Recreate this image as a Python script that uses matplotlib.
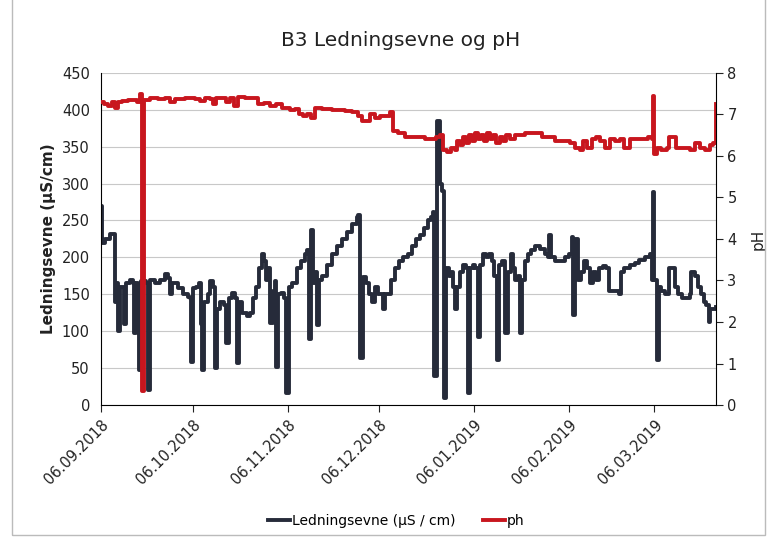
import numpy as np
import pandas as pd
import matplotlib
matplotlib.use("Agg")
from matplotlib import pyplot as plt
import matplotlib.dates as mdates
from matplotlib.patches import Rectangle

start = pd.Timestamp("2018-09-06")

# ledningsevne (uS/cm), x = days after 06.09.2018
cond_days = [0, 0.3, 1.3, 2.9, 4.2, 4.6, 5.2, 5.6, 6.2, 6.9, 7.5, 8.2, 9.5, 10.5, 10.8, 11.4,
             12.1, 12.4, 13.1, 14.7, 15.4, 16.0, 17.6, 19.3, 20.9, 21.9, 22.5, 23.2, 25.2, 26.8,
             28.4, 29.1, 29.4, 30.1, 31.0, 32.0, 32.7, 33.0, 33.7, 35.0, 35.6, 36.6, 37.3, 37.9,
             38.9, 40.2, 40.8, 41.8, 42.8, 43.8, 44.4, 45.1, 46.1, 47.7, 48.7, 49.7, 50.7, 51.6,
             52.6, 53.3, 53.9, 54.6, 55.2, 56.2, 56.9, 57.2, 57.8, 58.8, 59.8, 60.5, 61.4, 62.4,
             64.1, 65.4, 66.7, 67.3, 68.0, 68.6, 69.3, 69.9, 70.6, 71.2, 72.2, 73.9, 75.5, 77.1,
             78.8, 80.4, 82.0, 83.7, 84.0, 84.6, 85.6, 86.6, 87.6, 88.6, 89.5, 90.5, 91.5, 92.2,
             92.8, 93.8, 94.8, 96.1, 97.4, 98.7, 100.3, 101.6, 102.9, 104.2, 105.6, 106.9, 107.8,
             108.5, 108.8, 109.8, 110.8, 111.4, 112.1, 112.7, 113.7, 114.4, 115.0, 115.7, 116.3,
             117.3, 118.3, 119.3, 119.9, 120.6, 121.6, 122.2, 123.2, 123.9, 124.8, 125.8, 126.8,
             127.8, 128.4, 129.4, 130.1, 131.0, 132.0, 133.0, 134.0, 134.6, 135.3, 136.3, 136.9,
             137.6, 138.6, 139.5, 140.5, 141.8, 143.5, 145.1, 146.1, 146.4, 147.1, 148.4, 150.0,
             151.6, 152.9, 153.9, 154.2, 154.9, 155.9, 156.9, 157.8, 158.8, 159.8, 160.8, 161.8,
             162.7, 164.1, 165.0, 166.0, 167.6, 169.3, 169.9, 171.2, 172.9, 174.5, 176.1, 177.8,
             179.4, 180.1, 180.4, 181.0, 181.7, 182.4, 183.3, 184.3, 185.3, 185.9, 186.9, 187.6,
             188.6, 189.9, 191.2, 192.5, 193.1, 194.4, 195.1, 196.1, 197.1, 198.0, 198.7, 199.3,
             201.0]
cond = [270, 220, 225, 232, 232, 140, 165, 100, 160, 160, 110, 165, 170, 165, 98, 165,
        160, 47, 168, 165, 20, 170, 165, 170, 178, 172, 150, 165, 158, 150,
        147, 145, 58, 158, 160, 165, 110, 47, 140, 150, 168, 160, 50, 130,
        140, 135, 84, 145, 152, 145, 57, 140, 125, 120, 125, 145, 160, 185,
        205, 195, 170, 185, 111, 155, 168, 52, 150, 152, 145, 16, 160, 165,
        185, 195, 205, 210, 90, 237, 165, 180, 108, 170, 175, 190, 205, 215,
        225, 235, 245, 255, 257, 64, 173, 165, 150, 140, 160, 150, 150, 130,
        150, 150, 170, 185, 195, 200, 205, 215, 225, 230, 240, 250, 255,
        262, 40, 385, 300, 290, 10, 185, 175, 180, 160, 130, 160,
        180, 190, 185, 16, 185, 190, 185, 92, 190, 205, 200, 205,
        195, 175, 61, 190, 195, 98, 180, 205, 185, 170, 175, 98,
        170, 195, 205, 210, 215, 212, 205, 200, 230, 200, 195, 195,
        200, 205, 228, 122, 225, 170, 180, 195, 185, 165, 180, 170,
        185, 188, 185, 155, 155, 150, 180, 185, 190, 192, 197, 200,
        205, 170, 288, 170, 61, 160, 155, 150, 150, 185, 185, 160,
        150, 145, 145, 150, 180, 175, 160, 150, 140, 135, 112, 130,
        133]

ph_days = [0, 1.0, 2.3, 3.6, 4.6, 5.6, 6.9, 8.8, 10.8, 11.8, 12.7, 13.4, 14.1, 16.0, 18.6,
           20.9, 22.5, 24.2, 27.5, 30.7, 32.4, 34.0, 35.6, 36.6, 37.6, 39.5, 40.8, 42.2, 43.5,
           44.8, 47.1, 50.3, 51.3, 53.3, 55.2, 57.2, 59.2, 61.8, 63.4, 64.7, 66.0, 67.3, 68.6,
           69.9, 72.2, 75.5, 79.7, 82.0, 84.0, 85.3, 86.9, 87.9, 89.5, 91.2, 92.8, 94.4, 95.4,
           97.1, 99.3, 102.6, 105.9, 108.2, 109.5, 110.8, 111.8, 113.1, 114.4, 115.7, 116.3,
           117.3, 118.3, 119.3, 120.3, 121.2, 122.2, 123.2, 124.2, 125.2, 126.1, 127.1, 128.1,
           129.1, 130.4, 131.4, 132.4, 133.7, 135.3, 138.6, 141.8, 144.1, 146.7, 148.4, 151.6,
           153.3, 154.9, 156.5, 157.5, 158.8, 160.5, 161.8, 163.1, 164.7, 166.3, 168.0, 169.6,
           171.2, 172.9, 176.1, 178.8, 180.1, 180.4, 180.7, 181.7, 183.3, 185.0, 185.9, 186.9,
           187.9, 189.9, 192.5, 194.1, 195.8, 197.5, 199.0, 200.3, 201.0]
ph = [7.3, 7.25, 7.2, 7.3, 7.15, 7.3, 7.33, 7.35, 7.35, 7.3, 7.5, 0.35, 7.35, 7.4, 7.38,
      7.4, 7.3, 7.38, 7.4, 7.38, 7.32, 7.4, 7.37, 7.25, 7.4, 7.4, 7.3, 7.4, 7.2,
      7.42, 7.4, 7.4, 7.25, 7.28, 7.2, 7.25, 7.15, 7.1, 7.12, 7.0, 6.95, 7.0, 6.9,
      7.15, 7.12, 7.1, 7.08, 7.05, 6.95, 6.85, 6.85, 7.0, 6.9, 6.95, 6.95, 7.05, 6.6,
      6.55, 6.45, 6.45, 6.4, 6.4, 6.45, 6.5, 6.15, 6.1, 6.2, 6.15, 6.35,
      6.25, 6.45, 6.3, 6.5, 6.35, 6.55, 6.4, 6.5, 6.35, 6.55, 6.4, 6.5,
      6.3, 6.45, 6.35, 6.5, 6.4, 6.5, 6.55, 6.55, 6.45, 6.45, 6.35, 6.35,
      6.3, 6.2, 6.15, 6.35, 6.2, 6.4, 6.45, 6.35, 6.2, 6.4, 6.35, 6.4,
      6.2, 6.4, 6.4, 6.45, 6.4, 7.45, 6.05, 6.2, 6.15, 6.2, 6.45, 6.45,
      6.2, 6.2, 6.15, 6.3, 6.2, 6.15, 6.25, 6.3, 7.25]

tick_dates = ["06.09.2018", "06.10.2018", "06.11.2018", "06.12.2018",
              "06.01.2019", "06.02.2019", "06.03.2019"]

cond_x = start + pd.to_timedelta(cond_days, unit="D")
ph_x = start + pd.to_timedelta(ph_days, unit="D")
ticks = pd.to_datetime(tick_dates, format="%d.%m.%Y")

plt.rcParams['font.family'] = ['DejaVu Sans']
fig = plt.figure(figsize=(7.77, 5.43), dpi=100)
ax = fig.add_axes([0.130, 0.254, 0.791, 0.612])
ax2 = ax.twinx()

navy = '#262b3a'
red = '#c8161e'
l1, = ax.plot(cond_x, cond, color=navy, lw=2.8, drawstyle='steps-post')
l2, = ax2.plot(ph_x, ph, color=red, lw=2.8, drawstyle='steps-post')
ax2.set_zorder(ax.get_zorder() + 1)
ax.patch.set_visible(True)
ax2.patch.set_visible(False)

ax.set_xlim(start, start + pd.Timedelta(days=201))
ax.set_ylim(0, 450)
ax2.set_ylim(0, 8)
ax.set_yticks(range(0, 451, 50))
ax2.set_yticks(range(0, 9))
ax.set_xticks(ticks)
ax.set_xticklabels(tick_dates, rotation=45, ha='right', rotation_mode='anchor')
ax.grid(axis='y', color='#c8c8c8', lw=0.8)
ax.set_axisbelow(True)

for a in (ax, ax2):
    a.spines['top'].set_visible(False)
    a.tick_params(labelsize=10.5, colors='#222222')
ax.spines['right'].set_visible(False)
ax2.spines['left'].set_visible(False)
ax2.spines['bottom'].set_visible(False)
ax.tick_params(axis='y', length=0, pad=8)
ax.tick_params(axis='x', length=5, direction='out')
ax2.tick_params(axis='y', length=5, direction='out')

ax.set_ylabel('Ledningsevne (µS/cm)', fontsize=11, fontweight='bold', color='#222222')
ax2.set_ylabel('pH', fontsize=11, color='#222222', labelpad=10)
fig.text(0.515, 0.925, 'B3 Ledningsevne og pH', ha='center', va='center', fontsize=14.5,
         color='#222222')

fig.legend([l1, l2], ['Ledningsevne (µS / cm)', 'ph'], loc='center', ncol=2,
           bbox_to_anchor=(0.51, 0.04), frameon=False, fontsize=10,
           handlelength=1.6, handletextpad=0.1, columnspacing=2.0)

fig.patches.append(Rectangle((0.016, 0.015), 0.968, 1.2, transform=fig.transFigure,
                             fill=False, edgecolor='#bbbbbb', lw=1))

fig.savefig('out.png', dpi=100)
